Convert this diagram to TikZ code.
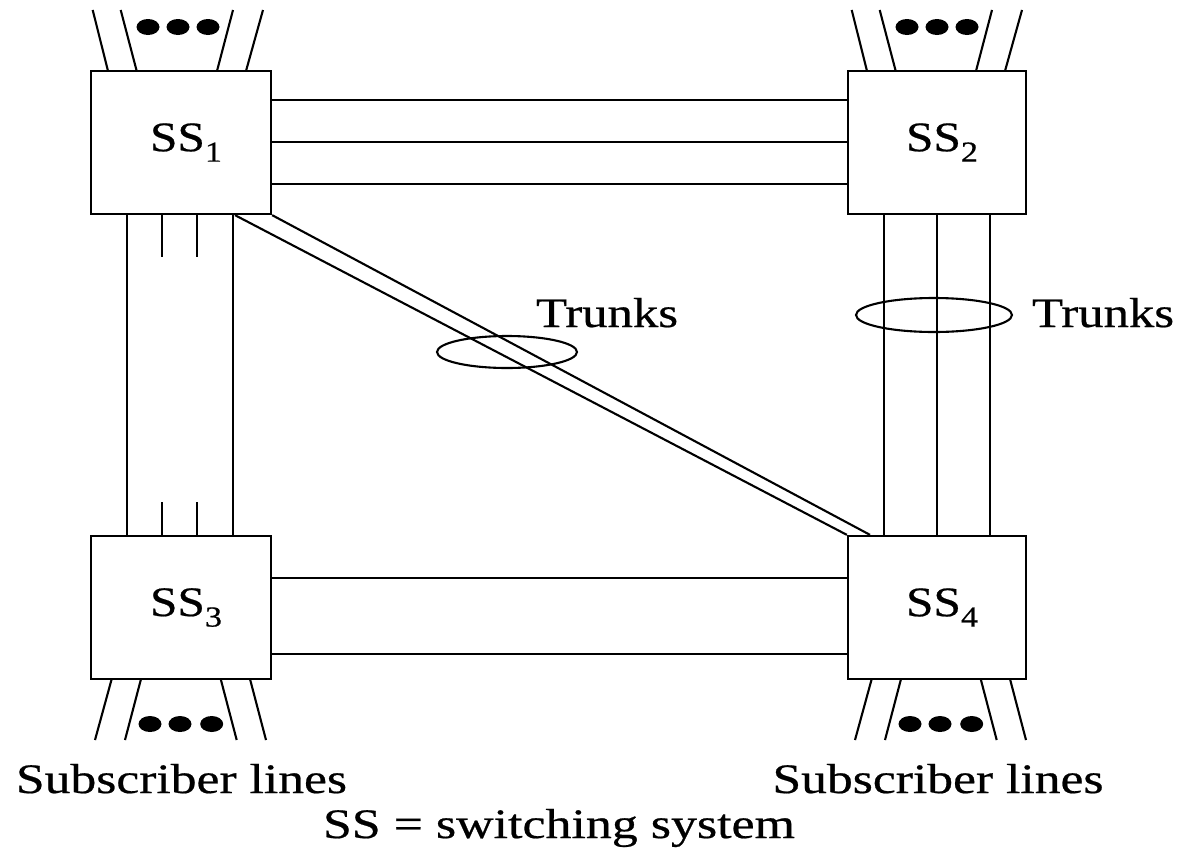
\documentclass[tikz,border=0pt]{standalone}
\usepackage{fontspec}
\setmainfont{Liberation Serif}[FakeBold=0.5]
\usepackage{graphicx}
\begin{document}
\begin{tikzpicture}[x=1pt,y=-1pt, line width=2.1pt,
  swbox/.style={draw, line width=2.3pt, fill=white, minimum height=143pt, inner sep=0pt},
  lbl/.style={inner sep=0pt, font=\fontsize{42}{48}\selectfont},
  subdot/.style={fill=black, draw=none}]
\useasboundingbox (0,0) rectangle (1191,857);
\newcommand{\sslabel}[1]{\hspace*{10pt}\resizebox{72pt}{\height}{SS\raisebox{-0.25em}{\fontsize{29}{29}\selectfont #1}}}

% switching systems
\node[swbox, minimum width=180pt, lbl] (ss1) at (181,142.5) {\sslabel{1}};
\node[swbox, minimum width=178pt, lbl] (ss2) at (937,142.5) {\sslabel{2}};
\node[swbox, minimum width=180pt, lbl] (ss3) at (181,607.5) {\sslabel{3}};
\node[swbox, minimum width=178pt, lbl] (ss4) at (937,607.5) {\sslabel{4}};

% trunks SS1 - SS2
\draw (ss1.east |- 0,100) -- (ss2.west |- 0,100);
\draw (ss1.east |- 0,142) -- (ss2.west |- 0,142);
\draw (ss1.east |- 0,184) -- (ss2.west |- 0,184);

% trunks SS3 - SS4
\draw (ss3.east |- 0,578) -- (ss4.west |- 0,578);
\draw (ss3.east |- 0,654) -- (ss4.west |- 0,654);

% trunks SS1 - SS3
\draw (127,0 |- ss1.south) -- (127,0 |- ss3.north);
\draw (233,0 |- ss1.south) -- (233,0 |- ss3.north);
\draw (162,0 |- ss1.south) -- (162,257);
\draw (197,0 |- ss1.south) -- (197,257);
\draw (162,502) -- (162,0 |- ss3.north);
\draw (197,502) -- (197,0 |- ss3.north);

% trunks SS2 - SS4
\draw (884,0 |- ss2.south) -- (884,0 |- ss4.north);
\draw (937,0 |- ss2.south) -- (937,0 |- ss4.north);
\draw (990,0 |- ss2.south) -- (990,0 |- ss4.north);

% diagonal trunks SS1 - SS4
\draw (ss1.south east) -- (870,0 |- ss4.north);
\draw (235,0 |- ss1.south) -- (ss4.north west);

% trunk group ellipses
\draw (507,352) ellipse [x radius=70pt, y radius=16pt];
\draw (934,315) ellipse [x radius=78pt, y radius=17pt];

% trunk labels
\node[lbl, anchor=base west] (tr1) at (535,327) {\resizebox{142pt}{\height}{Trunks}};
\node[lbl, anchor=base west] (tr2) at (1031,327) {\resizebox{142pt}{\height}{Trunks}};

% subscriber lines SS1, SS2 (top)
\foreach \dx in {0,759} {
  \draw (92.7+\dx,10) -- (108+\dx,71);
  \draw (120.7+\dx,10) -- (136.7+\dx,71);
  \draw (233+\dx,10) -- (217+\dx,71);
  \draw (263+\dx,10) -- (246+\dx,71);
  \fill[subdot] (148+\dx,27) ellipse [x radius=11.5pt, y radius=8pt];
  \fill[subdot] (178+\dx,27) ellipse [x radius=11.5pt, y radius=8pt];
  \fill[subdot] (208+\dx,27) ellipse [x radius=11.5pt, y radius=8pt];
}
% subscriber lines SS3, SS4 (bottom)
\foreach \dx in {0,760} {
  \draw (111.7+\dx,679) -- (95+\dx,740);
  \draw (141+\dx,679) -- (125+\dx,740);
  \draw (220.7+\dx,679) -- (236.7+\dx,740);
  \draw (250+\dx,679) -- (266+\dx,740);
  \fill[subdot] (150+\dx,724) ellipse [x radius=11.5pt, y radius=8pt];
  \fill[subdot] (180+\dx,724) ellipse [x radius=11.5pt, y radius=8pt];
  \fill[subdot] (211.7+\dx,724) ellipse [x radius=11.5pt, y radius=8pt];
}

% bottom labels
\node[lbl, anchor=base] (sub1) at (181.5,793) {\resizebox{331pt}{\height}{Subscriber lines}};
\node[lbl, anchor=base] (sub2) at (938,793) {\resizebox{331pt}{\height}{Subscriber lines}};
\node[lbl, anchor=base] (legend) at (559,838) {\resizebox{472pt}{\height}{SS = switching system}};
\end{tikzpicture}
\end{document}
